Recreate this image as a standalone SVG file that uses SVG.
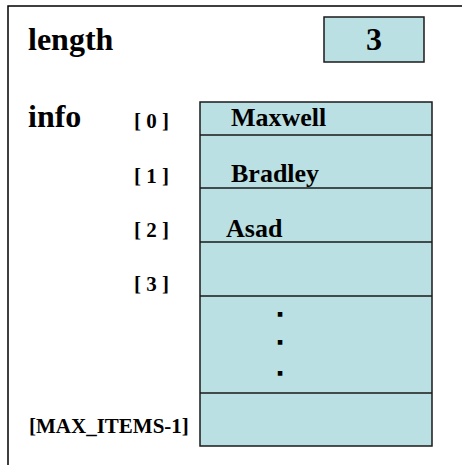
<svg xmlns="http://www.w3.org/2000/svg" width="462" height="465" viewBox="0 0 462 465">
  <style>
    .frame { fill: #ffffff; stroke: #000000; stroke-width: 1.5; }
    .cell { fill: #BBE0E3; stroke: #1a1a1a; stroke-width: 1.5; }
    .div { stroke: #1a1a1a; stroke-width: 1.5; }
    text { font-family: "Liberation Serif", "Times New Roman", serif; font-weight: bold; fill: #000000; }
    .big { font-size: 32px; }
    .idx { font-size: 21px; }
    .name { font-size: 26px; }
    .dot { font-family: "Liberation Sans", Arial, sans-serif; font-size: 22px; stroke: #000000; stroke-width: 1.4; }
  </style>

  <!-- outer record frame, continuing past the right and bottom edges -->
  <rect class="frame" x="8" y="6" width="470" height="470"/>

  <!-- length field -->
  <g id="length">
    <text class="big" x="28" y="50">length</text>
    <rect class="cell" x="324" y="17" width="100" height="45"/>
    <text class="big" x="374" y="50" text-anchor="middle">3</text>
  </g>

  <!-- info array -->
  <g id="info">
    <text class="big" x="28" y="127">info</text>
    <rect class="cell" x="200" y="102" width="232" height="344"/>
    <line class="div" x1="200" y1="135" x2="432" y2="135"/>
    <line class="div" x1="200" y1="188" x2="432" y2="188"/>
    <line class="div" x1="200" y1="242" x2="432" y2="242"/>
    <line class="div" x1="200" y1="296" x2="432" y2="296"/>
    <line class="div" x1="200" y1="393" x2="432" y2="393"/>
  </g>

  <!-- index labels -->
  <g id="indices">
    <text class="idx" x="169" y="128" text-anchor="end">[ 0 ]</text>
    <text class="idx" x="169" y="183" text-anchor="end">[ 1 ]</text>
    <text class="idx" x="169" y="237" text-anchor="end">[ 2 ]</text>
    <text class="idx" x="169" y="291" text-anchor="end">[ 3 ]</text>
    <text class="idx" x="29" y="433">[MAX_ITEMS-1]</text>
  </g>

  <!-- stored names -->
  <g id="items">
    <text class="name" x="231" y="126">Maxwell</text>
    <text class="name" x="231" y="182">Bradley</text>
    <text class="name" x="226" y="237">Asad</text>
  </g>

  <!-- ellipsis between used and last slots -->
  <g id="ellipsis">
    <text class="dot" x="280" y="316" text-anchor="middle">.</text>
    <text class="dot" x="280" y="344" text-anchor="middle">.</text>
    <text class="dot" x="280" y="375" text-anchor="middle">.</text>
  </g>
</svg>
